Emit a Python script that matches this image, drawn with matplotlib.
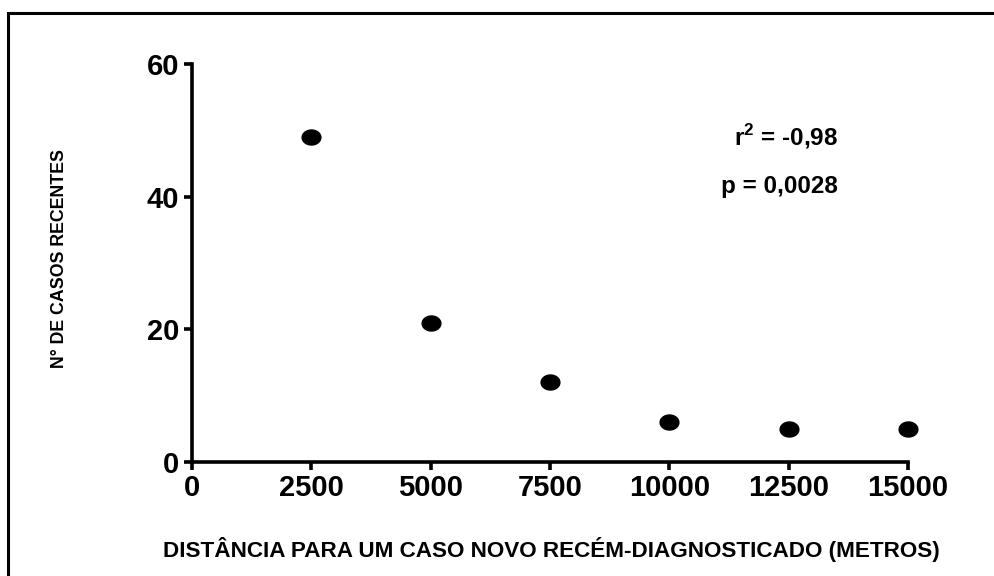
import numpy as np
import matplotlib.pyplot as plt
from matplotlib.path import Path
from matplotlib.patches import Rectangle

plt.rcParams['font.family'] = ['Liberation Sans', 'DejaVu Sans']
plt.rcParams['font.weight'] = 'bold'
plt.rcParams['mathtext.fontset'] = 'custom'
plt.rcParams['mathtext.rm'] = 'Liberation Sans:bold'
plt.rcParams['mathtext.bf'] = 'Liberation Sans:bold'

distancia = [2500, 5000, 7500, 10000, 12500, 15000]
casos = [49, 21, 12, 6, 5, 5]
xticks = [0, 2500, 5000, 7500, 10000, 12500, 15000]
yticks = [0, 20, 40, 60]

W, H = 995, 576

# slightly flattened dot, like the original
t = np.linspace(0, 2*np.pi, 60)
ellipse = Path(np.column_stack((1.25*np.cos(t), np.sin(t))), closed=True)

fig = plt.figure(figsize=(W/100, H/100), dpi=100)
ax = fig.add_axes([192/W, 1-462/H, (908-192)/W, (462-64)/H])

ax.plot(distancia, casos, linestyle='none', marker=ellipse, markersize=13.5,
        color='black', clip_on=False, zorder=5)

ax.set_xlim(0, 15000)
ax.set_ylim(0, 60)
ax.set_xticks(xticks)
ax.set_yticks(yticks)
ax.spines['top'].set_visible(False)
ax.spines['right'].set_visible(False)
for s in ['left', 'bottom']:
    ax.spines[s].set_linewidth(2.6)
ax.tick_params(direction='out', length=6, width=2.6, labelsize=21, pad=3)
for lab in ax.get_xticklabels() + ax.get_yticklabels():
    lab.set_fontweight('bold')

fig.text(838/W, 1-137/H, r'r$^{\mathrm{2}}$ = -0,98', fontsize=17.5,
         fontweight='bold', ha='right', va='center')
fig.text(838/W, 1-186/H, 'p = 0,0028', fontsize=17.5,
         fontweight='bold', ha='right', va='center')

fig.text(551/W, 1-549/H, 'DISTÂNCIA PARA UM CASO NOVO RECÉM-DIAGNOSTICADO (METROS)',
         fontsize=16.2, fontweight='bold', ha='center', va='center')
fig.text(60/W, 1-258/H, 'N° DE CASOS RECENTES', rotation=90,
         fontsize=12.8, fontweight='bold', ha='center', va='center')

fig.patches.append(Rectangle((8/W, -0.1), 1.2, 1.1 - 13/H,
                             transform=fig.transFigure, fill=False,
                             edgecolor='black', linewidth=2.2))

fig.savefig('out.png', dpi=100)
